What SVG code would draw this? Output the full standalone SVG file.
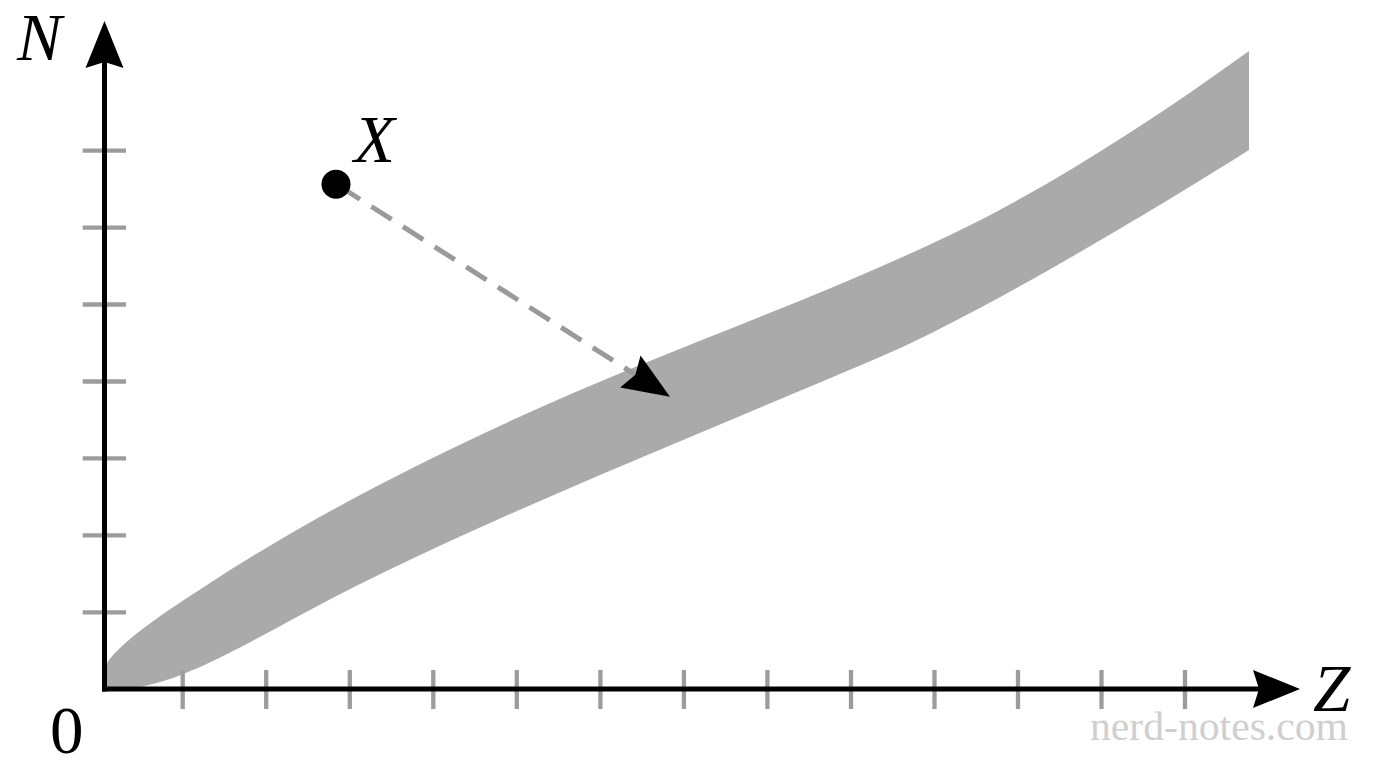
<svg xmlns="http://www.w3.org/2000/svg" width="1376" height="768" viewBox="0 0 1376 768">
  <style>
    .axis { stroke: #000; stroke-width: 5; fill: none; }
    .tick { stroke: #9c9c9c; stroke-width: 4.3; fill: none; }
    .band { fill: #aaaaaa; stroke: none; }
    .dash { stroke: #9a9a9a; stroke-width: 5; fill: none; stroke-dasharray: 24 13.5; stroke-dashoffset: 33.1; }
    .lbl { font-family: "Liberation Serif", "Times New Roman", serif; font-size: 67px; fill: #000; }
    .it { font-style: italic; }
    .wm { font-family: "Liberation Serif", "Times New Roman", serif; font-size: 40px; fill: #cfcfcf; }
  </style>
  <defs>
    <marker id="arrow" markerUnits="userSpaceOnUse" viewBox="-8 -21 52 42" refX="0" refY="0" markerWidth="52" markerHeight="42" orient="auto" overflow="visible">
      <path d="M 41,0 L -6,-19 L 0,0 L -6,19 Z" fill="#000"/>
    </marker>
  </defs>
  <rect width="1376" height="768" fill="#fff"/>

  <g id="band">
    <path class="band" d="M 104,690 L 104,672
      C 105,650 175,605.75 210,583
      C 340,498.5 490,426.5 640,365
      C 743,322.8 847,284.4 950,235
      C 1050,187 1149,123 1249,51
      L 1249,150
      C 1149,213 980,314 880,357
      C 787,396.6 693,435.4 600,475
      C 503,516.7 407,558.6 310,610
      C 230,652.4 170,690 110,690
      L 104,690 Z"/>
  </g>

  <g id="ticks">
    <line class="tick" x1="82.7" y1="150.7" x2="126" y2="150.7"/>
    <line class="tick" x1="82.7" y1="227.6" x2="126" y2="227.6"/>
    <line class="tick" x1="82.7" y1="304.5" x2="126" y2="304.5"/>
    <line class="tick" x1="82.7" y1="381.5" x2="126" y2="381.5"/>
    <line class="tick" x1="82.7" y1="458.4" x2="126" y2="458.4"/>
    <line class="tick" x1="82.7" y1="535.4" x2="126" y2="535.4"/>
    <line class="tick" x1="82.7" y1="612.3" x2="126" y2="612.3"/>
    <line class="tick" x1="182.7" y1="670" x2="182.7" y2="709"/>
    <line class="tick" x1="266.2" y1="670" x2="266.2" y2="709"/>
    <line class="tick" x1="349.8" y1="670" x2="349.8" y2="709"/>
    <line class="tick" x1="433.3" y1="670" x2="433.3" y2="709"/>
    <line class="tick" x1="516.8" y1="670" x2="516.8" y2="709"/>
    <line class="tick" x1="600.4" y1="670" x2="600.4" y2="709"/>
    <line class="tick" x1="683.9" y1="670" x2="683.9" y2="709"/>
    <line class="tick" x1="767.4" y1="670" x2="767.4" y2="709"/>
    <line class="tick" x1="851" y1="670" x2="851" y2="709"/>
    <line class="tick" x1="934.5" y1="670" x2="934.5" y2="709"/>
    <line class="tick" x1="1018" y1="670" x2="1018" y2="709"/>
    <line class="tick" x1="1101.5" y1="670" x2="1101.5" y2="709"/>
    <line class="tick" x1="1185" y1="670" x2="1185" y2="709"/>
  </g>

  <g id="axes">
    <path id="n-axis" class="axis" d="M 104.5,691.5 L 104.5,62" marker-end="url(#arrow)"/>
    <path id="z-axis" class="axis" d="M 102,689 L 1259,689" marker-end="url(#arrow)"/>
  </g>

  <g id="connectors">
    <path class="dash" d="M 336,184 L 635.4,374.7" marker-end="url(#arrow)"/>
  </g>

  <g id="point-X">
    <circle cx="336" cy="184.3" r="14.5" fill="#000"/>
    <text class="lbl it" x="354" y="162">X</text>
  </g>

  <g id="labels">
    <text class="lbl it" x="17" y="60">N</text>
    <text class="lbl it" x="1313" y="711">Z</text>
    <text class="lbl" x="50" y="753">0</text>
  </g>

  <g id="watermark">
    <text class="wm" x="1090" y="740" textLength="258" lengthAdjust="spacingAndGlyphs">nerd-notes.com</text>
  </g>
</svg>
